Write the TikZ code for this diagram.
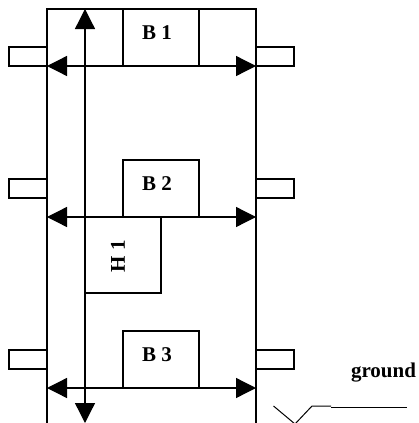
\documentclass[tikz,border=0pt]{standalone}
\usepackage{fontspec}
\setmainfont{Liberation Serif}
\usetikzlibrary{arrows.meta}
\tikzset{
  x=1pt,y=-1pt,
  line/.style={line width=1.3pt,draw=black},
  box/.style={rectangle,draw=black,line width=1.3pt,fill=white,inner sep=0pt,outer sep=0pt},
  stub/.style={box,minimum width=38pt,minimum height=19pt},
  wide/.style={box,minimum width=76pt,minimum height=57pt},
  tall/.style={box,minimum width=76pt,minimum height=76pt},
  txt/.style={font=\fontsize{21}{23}\selectfont\bfseries,inner sep=0pt},
  dbl/.style={line,{Triangle[length=20pt,width=20pt]}-{Triangle[length=20pt,width=20pt]},shorten <=0pt,shorten >=0pt}
}
\begin{document}
\begin{tikzpicture}
\useasboundingbox (0,0) rectangle (418,423);
% frame
\coordinate (fbl) at (47,423);
\coordinate (ftl) at (47,9);
\coordinate (ftr) at (256,9);
\coordinate (fbr) at (256,423);
\draw[line] (fbl) -- (ftl) -- (ftr) -- (fbr);
% stubs
\node[stub] (sl1) at (28,56.5) {};
\node[stub] (sl2) at (28,188.5) {};
\node[stub] (sl3) at (28,359.5) {};
\node[stub] (sr1) at (275,56.5) {};
\node[stub] (sr2) at (275,188.5) {};
\node[stub] (sr3) at (275,359.5) {};
% beams
\node[wide] (b1) at (161,37.5) {};
\node[wide] (b2) at (161,188.5) {};
\node[wide] (b3) at (161,359.5) {};
\node[tall] (h1) at (123,255) {};
\node[txt] (tb1) at (157,33) {B 1};
\node[txt] (tb2) at (157,183.5) {B 2};
\node[txt] (tb3) at (157,355) {B 3};
\node[txt,rotate=90] (th1) at (118,256) {H 1};
% dimension arrows
\coordinate (a1l) at (47,66);
\coordinate (a1r) at (256,66);
\coordinate (a2l) at (47,217);
\coordinate (a2r) at (256,217);
\coordinate (a3l) at (47,388);
\coordinate (a3r) at (256,388);
\coordinate (vt) at (85,9);
\coordinate (vb) at (85,423);
\draw[dbl] (a1l) -- (a1r);
\draw[dbl] (a2l) -- (a2r);
\draw[dbl] (a3l) -- (a3r);
\draw[dbl] (vt) -- (vb);
% ground
\node[txt] (g) at (383.5,373) {ground};
\coordinate (g1) at (273.5,406);
\coordinate (g2) at (295,424);
\coordinate (g3) at (312,406);
\coordinate (g4) at (331,406);
\coordinate (g5) at (331,407.5);
\coordinate (g6) at (407,407.5);
\draw[line width=1pt] (g1) -- (g2) -- (g3) -- (g4);
\draw[line width=.7pt] (g5) -- (g6);
\end{tikzpicture}
\end{document}
